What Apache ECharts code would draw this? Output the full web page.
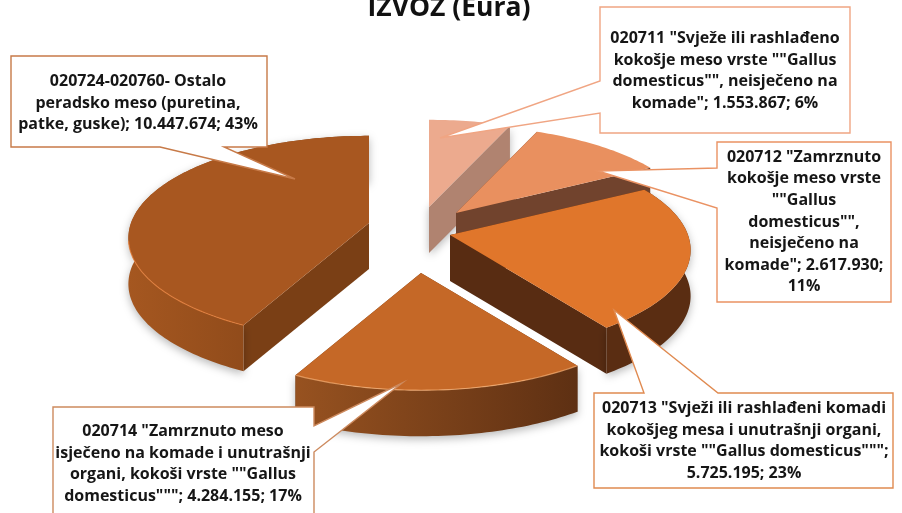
<!DOCTYPE html>
<html><head><meta charset="utf-8">
<style>html,body{margin:0;padding:0;background:#fff;overflow:hidden}#c{width:902px;height:513px}</style>
<script src="https://cdn.jsdelivr.net/npm/echarts@6/dist/echarts.min.js"></script>
</head><body><div id="c"></div>
<script>
var title = 'IZVOZ (Eura)';
var categories = ['020711','020712','020713','020714','020724-020760'];
var values = [1553867, 2617930, 5725195, 4284155, 10447674];
var labels = [
 '020711 "Svježe ili rashlađeno\nkokošje meso vrste ""Gallus\ndomesticus"", neisječeno na\nkomade"; 1.553.867; 6%',
 '020712 "Zamrznuto\nkokošje meso vrste\n""Gallus\ndomesticus"",\nneisječeno na\nkomade"; 2.617.930;\n11%',
 '020713 "Svježi ili rashlađeni komadi\nkokošjeg mesa i unutrašnji organi,\nkokoši vrste ""Gallus domesticus""";\n5.725.195; 23%',
 '020714 "Zamrznuto meso\nisječeno na komade i unutrašnji\norgani, kokoši vrste ""Gallus\ndomesticus"""; 4.284.155; 17%',
 '020724-020760- Ostalo\nperadsko meso (puretina,\npatke, guske); 10.447.674; 43%'
];

// styling / layout of the exploded 3D pie
var RX = 238, RY = 100, K = 0.147, DEPTH = 46;
var apex = [[429,207],[456,213],[450,235],[421,273],[369,223]];
var topCol = ['#ecaa8e','#e9905f','#e0762b','#c56827','#a85720'];
var cutCol = ['#b08370','#71432d','#582c12','#6a3614','#7a3f15'];
var wallL = ['#b08370','#71432d','#5a2d12','#975220','#a55720'];
var wallR = ['#b08370','#71432d','#5a2d12','#5e3013','#7b3f15'];
var rimCol = [null,null,null,'rgba(255,185,125,0.65)','rgba(235,130,60,0.7)'];
var hasOuterWall = [false,false,true,true,true];
var drawOrder = [0,1,2,4,3];

var total = values.reduce(function(a,b){return a+b;},0);
var cum = [0];
values.forEach(function(v,i){cum.push(cum[i]+v/total*2*Math.PI);});

function proj(a, th, dz){
  var u = Math.sin(th), v = -Math.cos(th), w = 1 - K*v;
  return [a[0] + u*RX/w, a[1] + v*RY/w + (dz||0)];
}
function arcPts(a, t0, t1, dz){
  var n = Math.max(6, Math.ceil((t1-t0)/0.02)), p = [];
  for (var i=0;i<=n;i++) p.push(proj(a, t0+(t1-t0)*i/n, dz));
  return p;
}
function renderItem(params, api){
  var i = drawOrder[params.dataIndex];
  var a = apex[i], t0 = cum[i], t1 = cum[i+1];
  var rim = arcPts(a,t0,t1,0), low = arcPts(a,t0,t1,DEPTH);
  var apexLow = [a[0], a[1]+DEPTH];
  var shadow = {shadowColor:'rgba(0,0,0,0.28)', shadowBlur:9, shadowOffsetY:3};
  var kids = [];
  [[rim[0],low[0]],[rim[rim.length-1],low[low.length-1]]].forEach(function(e){
    kids.push({type:'polygon', shape:{points:[a,e[0],e[1],apexLow]}, style:Object.assign({fill:cutCol[i]}, i===0?shadow:{})});
  });
  if (hasOuterWall[i]) {
    kids.push({type:'polygon', shape:{points:rim.concat(low.slice().reverse())},
      style:Object.assign({fill:{type:'linear',x:0,y:0,x2:1,y2:0,colorStops:[{offset:0,color:wallL[i]},{offset:1,color:wallR[i]}]}}, shadow)});
  }
  kids.push({type:'polygon', shape:{points:[a].concat(rim)}, style:{fill:topCol[i]}});
  if (rimCol[i]) {
    var fr = rim.filter(function(p){return p[1] > a[1]+18;});
    kids.push({type:'polyline', shape:{points:fr}, style:{fill:null, stroke:rimCol[i], lineWidth:1.2}});
  }
  return {type:'group', children:kids};
}

// callouts: box outline with pointer, text centre
var callouts = [
 {pts:[[600,7],[850,7],[850,133],[600,133],[600,113],[440,138],[600,81]], c:[725,71], col:'#f0a583', i:0},
 {pts:[[717,142],[891,142],[891,302],[717,302],[717,208],[598,171],[717,168]], c:[804,222], col:'#ea9263', i:1},
 {pts:[[594,393],[644,393],[614,310],[718,393],[893,393],[893,488],[594,488]], c:[744,441], col:'#e08a50', i:2},
 {pts:[[53,407],[314,407],[314,426],[402,383],[314,452],[314,530],[53,530]], c:[183,464], col:'#cd8a5e', i:3},
 {pts:[[11,56],[267,56],[267,147],[224,147],[295,179],[160,147],[11,147]], c:[138,103], col:'#c77a48', i:4}
];
var FONT = '"Open Sans", "Noto Sans", sans-serif';
var graphics = [];
callouts.forEach(function(o){
  graphics.push({type:'polygon', z:10, shape:{points:o.pts}, style:{fill:'#fff', stroke:o.col, lineWidth:1.4}});
  graphics.push({type:'text', z:11, x:o.c[0], y:o.c[1], style:{text:labels[o.i], fill:'#161616',
    font:'bold 16px '+FONT, lineHeight:21.6, align:'center', verticalAlign:'middle'}});
});
graphics.push({type:'text', z:11, x:449, y:8, style:{text:title, fill:'#111', font:'bold 26.5px '+FONT, align:'center', verticalAlign:'middle'}});

var chart = echarts.init(document.getElementById('c'), null, {renderer:'canvas'});
chart.setOption({
  animation:false,
  backgroundColor:'#fff',
  series:[{type:'custom', coordinateSystem:'none', silent:true, renderItem:renderItem,
    data:drawOrder.map(function(i){return {name:categories[i], value:[i, values[i]]};})}],
  graphic:graphics
});
</script></body></html>
